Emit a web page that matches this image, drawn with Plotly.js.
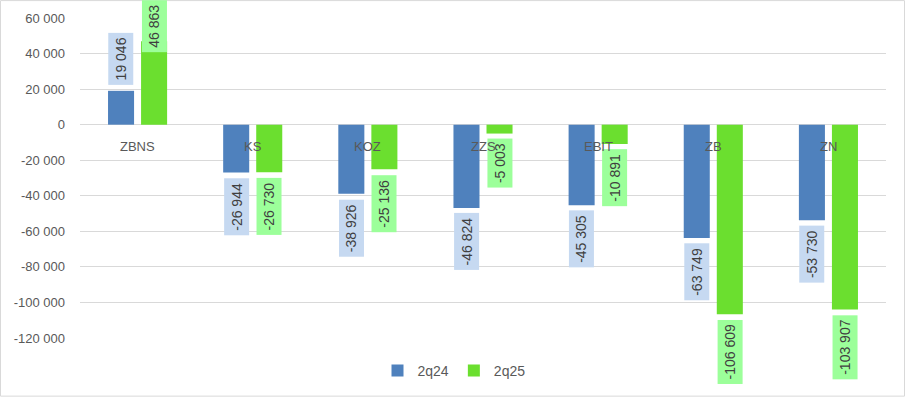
<!DOCTYPE html>
<html><head><meta charset="utf-8">
<script src="https://cdn.plot.ly/plotly-3.0.1.min.js"></script>
<style>body{margin:0;background:#fff}#chart{width:905px;height:399px}</style>
</head><body><div id="chart"></div>
<script>
const categories = ['ZBNS','KS','KOZ','ZZS','EBIT','ZB','ZN'];
const series2q24 = [19046,-26944,-38926,-46824,-45305,-63749,-53730];
const series2q25 = [46863,-26730,-25136,-5003,-10891,-106609,-103907];
const seriesNames = ['2q24','2q25'];
const yTickVals = [60000,40000,20000,0,-20000,-40000,-60000,-80000,-100000,-120000];
const yTickText = ['60 000','40 000','20 000','0','-20 000','-40 000','-60 000','-80 000','-100 000','-120 000'];

const W = 905, H = 399;
const M = {l:80, r:19, t:18, b:59};
const PW = W - M.l - M.r, PH = H - M.t - M.b;
const yMin = -120000, yMax = 60000;
const barColors = ['#4F81BD','#6BDF2F'];
const boxColors = ['#C6D9F1','#9CFF9A'];
const shifts = [-16.5, 16.5];
const FONT = 'Liberation Sans, Arial, sans-serif';

function fmt(v){
  const s = String(Math.abs(v)).replace(/\B(?=(\d{3})+(?!\d))/g,' ');
  return (v<0?'-':'') + s;
}
function yPx(v){ return M.t + (yMax - v)/(yMax - yMin)*PH; }

const allSeries = [series2q24, series2q25];
const traces = allSeries.map((vals,i)=>({
  type:'bar', name:seriesNames[i], x:categories, y:vals,
  marker:{color:barColors[i]}, hoverinfo:'skip'
}));

const annotations = [];
allSeries.forEach((vals,i)=>{
  vals.forEach((v,j)=>{
    const txt = fmt(v);
    const ann = {
      x:categories[j], xref:'x', y:v, yref:'y', text:txt, showarrow:false,
      textangle:-90, bgcolor:boxColors[i], borderpad:4,
      font:{family:FONT, size:14, color:'#404040'},
      xshift:shifts[i], xanchor:'center'
    };
    if(v>=0){
      const estH = 7.5*txt.length + 12;
      if(yPx(v) - 5 - estH < 0){
        ann.yref='paper'; ann.y = 1 + M.t/PH; ann.yanchor='top';
      } else { ann.yanchor='bottom'; ann.yshift=5; }
    } else { ann.yanchor='top'; ann.yshift=-5; }
    annotations.push(ann);
  });
});
categories.forEach(c=>{
  annotations.push({x:c, xref:'x', y:0, yref:'y', text:c, showarrow:false,
    yanchor:'top', yshift:-12, font:{family:FONT, size:13, color:'#595959'}});
});

const layout = {
  width:W, height:H, margin:M,
  paper_bgcolor:'#fff', plot_bgcolor:'#fff',
  font:{family:FONT, size:13, color:'#595959'},
  barmode:'group', bargap:0.426, bargroupgap:0.212,
  showlegend:true,
  legend:{orientation:'h', x:(454-M.l)/PW, xanchor:'center', y:(M.t+PH-373)/PH, yanchor:'middle',
    font:{family:FONT, size:14, color:'#595959'}, itemclick:false, itemwidth:30},
  xaxis:{showticklabels:false, showgrid:false, zeroline:false, showline:false, ticks:'', fixedrange:true},
  yaxis:{range:[yMin,yMax], tickvals:yTickVals, ticktext:yTickText, showgrid:true,
    gridcolor:'#D9D9D9', gridwidth:1, zeroline:true, zerolinecolor:'#D9D9D9', zerolinewidth:1,
    showline:false, ticks:'', ticklabelstandoff:14, fixedrange:true,
    tickfont:{family:FONT, size:13, color:'#595959'}},
  annotations:annotations,
  shapes:[{type:'rect', xref:'paper', yref:'paper',
    x0:(0.5-M.l)/PW, x1:(W-0.5-M.l)/PW, y0:(M.t+PH-(H-0.5))/PH, y1:(M.t+PH-0.5)/PH,
    line:{color:'#D9D9D9', width:1}, fillcolor:'rgba(0,0,0,0)', layer:'below'}],
  hovermode:false
};
Plotly.newPlot('chart', traces, layout, {displayModeBar:false, staticPlot:true});
</script></body></html>
